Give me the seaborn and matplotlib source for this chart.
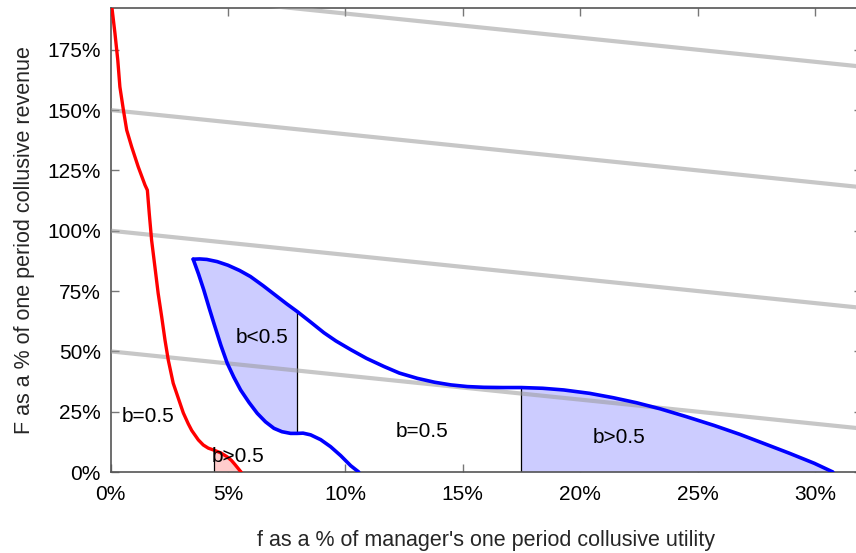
import numpy as np
import pandas as pd
import matplotlib
matplotlib.use("Agg")
import matplotlib.pyplot as plt
import seaborn as sns

# ---------------- data ----------------
red_f = [0.06, 0.19, 0.31, 0.40, 0.55, 0.69, 0.90, 1.18, 1.47, 1.57, 1.65, 1.75, 1.89, 2.03,
         2.18, 2.32, 2.46, 2.67, 2.96, 3.10, 3.31, 3.46, 3.74, 3.95, 4.16, 4.42, 4.70, 4.95,
         5.15, 5.30, 5.45, 5.56]
red_F = [192.5, 181.8, 170.7, 159.6, 150.0, 141.7, 134.8, 126.5, 118.9, 116.8, 107.2, 96.1, 85.1, 74.0,
         64.3, 54.7, 46.4, 36.8, 28.5, 24.5, 20.0, 17.2, 13.3, 11.2, 9.9, 9.0, 7.9, 6.4,
         4.8, 3.1, 1.3, 0.0]

upper_f = [3.52, 3.80, 4.10, 4.54, 5.00, 5.50, 5.96, 6.50, 7.10, 7.50, 7.95, 8.50, 9.09, 9.60,
           10.23, 10.90, 11.65, 12.30, 13.07, 13.80, 14.49, 15.20, 15.90, 16.70, 17.50, 18.40,
           19.30, 20.40, 21.40, 22.40, 23.40, 24.50, 25.70, 26.80, 27.80, 28.90, 29.97, 30.76]
upper_F = [88.2, 88.3, 88.1, 87.2, 85.7, 83.5, 81.0, 77.2, 72.7, 69.7, 66.5, 62.3, 57.7, 54.3,
           50.7, 47.1, 43.7, 41.0, 38.8, 37.2, 36.1, 35.4, 35.1, 35.0, 35.0, 34.7,
           34.0, 32.6, 30.8, 28.7, 26.2, 23.0, 19.3, 15.6, 11.9, 7.8, 3.6, 0.0]

lower_f = [3.52, 3.75, 3.97, 4.20, 4.40, 4.70, 4.97, 5.25, 5.54, 5.90, 6.25, 6.60, 6.96, 7.30,
           7.67, 7.95, 8.20, 8.52, 8.95, 9.37, 9.80, 10.23, 10.57]
lower_F = [88.2, 82.0, 75.5, 68.0, 61.7, 52.5, 45.1, 39.3, 34.0, 28.8, 24.3, 20.8, 18.1, 16.7,
           16.0, 16.0, 16.1, 15.4, 13.4, 10.5, 6.8, 2.6, 0.0]

# iso-lines (straight, light grey): F at f=0 and at f=32
gray_f = [0.0, 32.0]
gray_start = [50, 100, 150, 200]
gray_end = [18, 68, 118, 168]

# region boundaries (vertical black lines)
cut_pink = 4.42
cut_low = 7.95
cut_high = 17.50

labels = ["b=0.5", "b<0.5", "b=0.5", "b>0.5", "b>0.5"]
label_f = [1.62, 6.47, 13.25, 21.65, 5.45]
label_F = [22.8, 55.6, 16.6, 14.1, 6.3]

xticks = [0, 5, 10, 15, 20, 25, 30]
yticks = [0, 25, 50, 75, 100, 125, 150, 175]

# ---------------- style ----------------
sns.set_theme(style="ticks")
plt.rcParams["font.family"] = ["Liberation Sans", "DejaVu Sans"]

fig = plt.figure(figsize=(8.56, 5.53), dpi=100)
ax = fig.add_axes([110.5 / 856, 1 - 472 / 553, (862 - 110.5) / 856, (472 - 8) / 553])

rf = np.array(red_f); rF = np.array(red_F)
uf = np.array(upper_f); uF = np.array(upper_F)
lf = np.array(lower_f); lF = np.array(lower_F)

blue_fill = "#ccccff"
pink_fill = "#ffcccc"

# fills
m = rf >= cut_pink
ax.fill_between(rf[m], rF[m], 0, color=pink_fill, lw=0, zorder=1)
mu = uf <= cut_low
ml = lf <= cut_low
poly_x = np.concatenate([uf[mu], lf[ml][::-1]])
poly_y = np.concatenate([uF[mu], lF[ml][::-1]])
ax.fill(poly_x, poly_y, color=blue_fill, lw=0, zorder=1)
mh = uf >= cut_high
ax.fill_between(uf[mh], uF[mh], 0, color=blue_fill, lw=0, zorder=1)

# vertical separators
ax.vlines(cut_pink, 0, rF[rf == cut_pink][0], color="black", lw=0.9, zorder=2)
ax.vlines(cut_low, lF[lf == cut_low][0], uF[uf == cut_low][0], color="black", lw=0.9, zorder=2)
ax.vlines(cut_high, 0, uF[uf == cut_high][0], color="black", lw=0.9, zorder=2)

# grey iso-lines
for s, e in zip(gray_start, gray_end):
    sns.lineplot(x=gray_f, y=[s, e], ax=ax, color="#999999", alpha=0.55, lw=3.0,
                 sort=False, estimator=None, zorder=3)

# curves
kw = dict(sort=False, estimator=None, zorder=4, solid_joinstyle="round", solid_capstyle="round")
sns.lineplot(x=red_f, y=red_F, ax=ax, color="#ff0000", lw=2.4, **kw)
sns.lineplot(x=upper_f, y=upper_F, ax=ax, color="#0000ff", lw=2.6, **kw)
sns.lineplot(x=lower_f, y=lower_F, ax=ax, color="#0000ff", lw=2.6, **kw)

for t, x, y in zip(labels, label_f, label_F):
    ax.text(x, y, t, ha="center", va="center", fontsize=15, color="black", zorder=5)

ax.set_xlim(0, 32.0)
ax.set_ylim(0, 192.3)
ax.set_xticks(xticks)
ax.set_xticklabels([f"{v}%" for v in xticks])
ax.set_yticks(yticks)
ax.set_yticklabels([f"{v}%" for v in yticks])
ax.tick_params(axis="both", direction="in", length=6, width=1, color="#777777",
               labelsize=15, labelcolor="black", top=True, right=True)
ax.tick_params(axis="x", pad=9)
ax.tick_params(axis="y", pad=7)
for side in ["left", "bottom", "top"]:
    ax.spines[side].set_color("#555555")
    ax.spines[side].set_linewidth(1.2)
ax.spines["right"].set_visible(False)

ax.set_xlabel("f as a % of manager's one period collusive utility", fontsize=15.5, labelpad=19)
ax.set_ylabel("F as a % of one period collusive revenue", fontsize=15.5, labelpad=9)

fig.savefig("out.png", dpi=100)
